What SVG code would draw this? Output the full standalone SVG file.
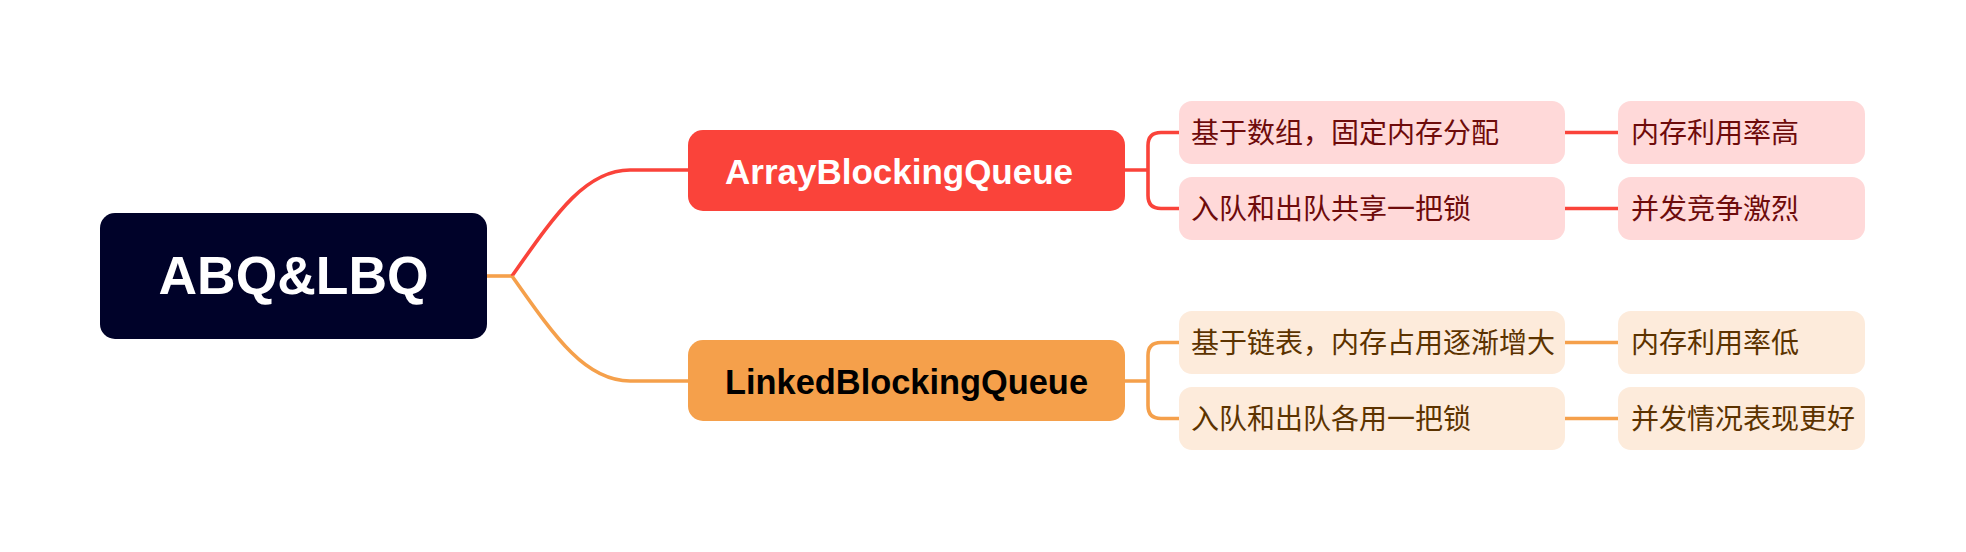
<svg xmlns="http://www.w3.org/2000/svg" width="1966" height="552" viewBox="0 0 1966 552">
<style>
.root{fill:#000229}
.red{fill:#FA433A}
.org{fill:#F5A04B}
.lred{fill:#FFD9D9}
.lorg{fill:#FDEBDB}
.latin{font-family:"Liberation Sans",Arial,sans-serif;font-weight:bold}
.cjk{font-family:"Noto Sans CJK SC","Noto Sans",sans-serif;font-size:28px}
.tred{fill:#6E0B0B}
.torg{fill:#5C3300}
.lr{fill:none;stroke:#FA433A;stroke-width:3.6}
.lo{fill:none;stroke:#F5A04B;stroke-width:3.6}
</style>
<rect width="1966" height="552" fill="#ffffff"/>
<g id="connectors">
<path class="lo" d="M487,276 H512"/>
<path class="lr" d="M512,276 C555,215 585,170 630,170 H689"/>
<path class="lo" d="M512,276 C555,337 585,381 630,381 H689"/>
<path class="lr" d="M1125,170 H1148 M1179,132.5 H1161 Q1148,132.5 1148,145.5 V195.5 Q1148,208.5 1161,208.5 H1179"/>
<path class="lo" d="M1125,381 H1148 M1179,342.5 H1161 Q1148,342.5 1148,355.5 V405.5 Q1148,418.5 1161,418.5 H1179"/>
<path class="lr" d="M1565,132.5 H1618 M1565,208.5 H1618"/>
<path class="lo" d="M1565,342.5 H1618 M1565,418.5 H1618"/>
</g>
<g id="root">
<rect class="root" x="100" y="213" width="387" height="126" rx="15"/>
<text class="latin" x="293.5" y="294" font-size="54" fill="#ffffff" text-anchor="middle" textLength="270" lengthAdjust="spacingAndGlyphs">ABQ&amp;LBQ</text>
</g>
<g id="abq">
<rect class="red" x="688" y="130" width="437" height="81" rx="15"/>
<text class="latin" x="725" y="184" font-size="35" fill="#ffffff" textLength="348" lengthAdjust="spacingAndGlyphs">ArrayBlockingQueue</text>
</g>
<g id="lbq">
<rect class="org" x="688" y="340" width="437" height="81" rx="15"/>
<text class="latin" x="725" y="394" font-size="35" fill="#000000" textLength="363" lengthAdjust="spacingAndGlyphs">LinkedBlockingQueue</text>
</g>
<g id="abq-1">
<rect class="lred" x="1179" y="101" width="386" height="63" rx="13"/>
<text class="cjk tred" x="1191" y="142.5">基于数组，固定内存分配</text>
</g>
<g id="abq-1-1">
<rect class="lred" x="1618" y="101" width="247" height="63" rx="13"/>
<text class="cjk tred" x="1631" y="142.5">内存利用率高</text>
</g>
<g id="abq-2">
<rect class="lred" x="1179" y="177" width="386" height="63" rx="13"/>
<text class="cjk tred" x="1191" y="218.5">入队和出队共享一把锁</text>
</g>
<g id="abq-2-1">
<rect class="lred" x="1618" y="177" width="247" height="63" rx="13"/>
<text class="cjk tred" x="1631" y="218.5">并发竞争激烈</text>
</g>
<g id="lbq-1">
<rect class="lorg" x="1179" y="311" width="386" height="63" rx="13"/>
<text class="cjk torg" x="1191" y="352.5">基于链表，内存占用逐渐增大</text>
</g>
<g id="lbq-1-1">
<rect class="lorg" x="1618" y="311" width="247" height="63" rx="13"/>
<text class="cjk torg" x="1631" y="352.5">内存利用率低</text>
</g>
<g id="lbq-2">
<rect class="lorg" x="1179" y="387" width="386" height="63" rx="13"/>
<text class="cjk torg" x="1191" y="428.5">入队和出队各用一把锁</text>
</g>
<g id="lbq-2-1">
<rect class="lorg" x="1618" y="387" width="247" height="63" rx="13"/>
<text class="cjk torg" x="1631" y="428.5">并发情况表现更好</text>
</g>
</svg>
